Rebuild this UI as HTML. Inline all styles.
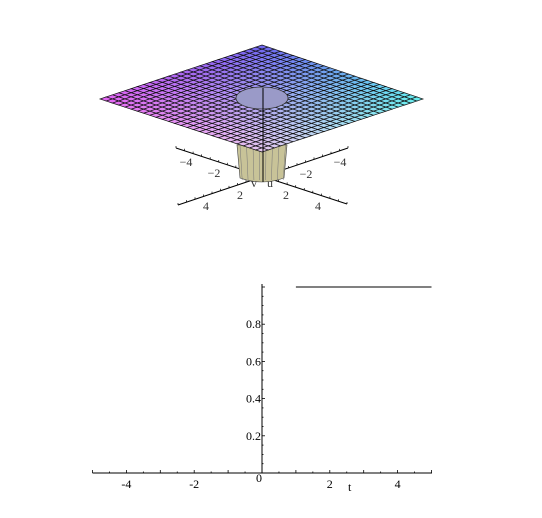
<!DOCTYPE html>
<html><head><meta charset="utf-8"><style>
html,body{margin:0;padding:0;background:#fff;}
svg{display:block;font-family:"Liberation Serif",serif;}
</style></head><body>
<svg id="s" width="542" height="518" viewBox="0 0 542 518">
<g id="p3d"></g>
<g id="p2d"></g>
</svg>
<script>
// 2D step plot data
const xTicks=[-4,-2,0,2,4];
const yTicks=[0.2,0.4,0.6,0.8];
const stepT=[-5,1,1,5];
const stepY=[0,0,1,1];
// 3D axis tick labels
const axTicksA=[-4,-2,2,4];

const NS="http://www.w3.org/2000/svg";
function mk(tag,attrs,parent){const e=document.createElementNS(NS,tag);for(const k in attrs)e.setAttribute(k,attrs[k]);parent.appendChild(e);return e;}

// ---------- 3D surface ----------
const g3=document.getElementById('p3d');
const T=[262,45],L=[100,99],R=[423,99],B=[262,152];
const cT=[110,100,240],cL=[230,100,245],cR=[100,240,240],cB=[230,200,240];
const N=26;
function pt(u,v){
  const x=(1-u)*(1-v)*T[0]+u*(1-v)*R[0]+u*v*B[0]+(1-u)*v*L[0];
  const y=(1-u)*(1-v)*T[1]+u*(1-v)*R[1]+u*v*B[1]+(1-u)*v*L[1];
  return [x,y];}
function col(u,v){const c=[0,1,2].map(i=>Math.round((1-u)*(1-v)*cT[i]+u*(1-v)*cR[i]+u*v*cB[i]+(1-u)*v*cL[i]));return `rgb(${c})`;}
// axes behind
const ax1=mk('line',{x1:176,y1:148,x2:347,y2:204,stroke:'#000','stroke-width':1},g3);

const ax2=mk('line',{x1:178,y1:205,x2:348,y2:148,stroke:'#000','stroke-width':1},g3);

for(let k=0;k<=20;k++){const f=k/20;
  const x1=176+f*171,y1=148+f*56; mk('line',{x1:x1,y1:y1,x2:x1,y2:y1-2,stroke:'#000','stroke-width':0.7},g3);
  const x2=178+f*170,y2=205-f*57; mk('line',{x1:x2,y1:y2,x2:x2,y2:y2-2,stroke:'#000','stroke-width':0.7},g3);}
// cylinder
const cyl=mk('path',{d:'M237,145 L287,145 L284,178 Q262,186 240,178 Z',fill:'#c8c398',stroke:'#444','stroke-width':0.6},g3);

for(let i=0;i<8;i++){const x=240+i*6.5;mk('line',{x1:x,y1:145,x2:x+(262-x)*0.1,y2:180,stroke:'#777','stroke-width':0.5},g3);}
// surface cells
for(let i=0;i<N;i++)for(let j=0;j<N;j++){
  const u0=i/N,u1=(i+1)/N,v0=j/N,v1=(j+1)/N;
  const a=pt(u0,v0),b=pt(u1,v0),c=pt(u1,v1),d=pt(u0,v1);
  mk('polygon',{points:[a,b,c,d].map(p=>p.join(',')).join(' '),fill:col((u0+u1)/2,(v0+v1)/2),stroke:'#111','stroke-width':0.7},g3);
}
const hole=mk('ellipse',{cx:262,cy:98,rx:26,ry:11,fill:'#9a9ac8',stroke:'#333','stroke-width':0.8},g3);

const vax=mk('line',{x1:263,y1:88,x2:263,y2:182,stroke:'#000','stroke-width':1},g3);

const lbl3=[[186,166,'−4'],[214,177,'−2'],[240,199,'2'],[206,210,'4'],[340,166,'−4'],[306,178,'−2'],[286,199,'2'],[318,210,'4'],[254,187,'v'],[270,187,'u']];
lbl3.forEach(l=>{const t=mk('text',{x:l[0],y:l[1],'font-size':12,'text-anchor':'middle',fill:'#333'},g3);t.textContent=l[2];
});

// ---------- 2D plot ----------
const g2=document.getElementById('p2d');
const X=t=>262+t*33.9, Y=y=>473-y*186;
const xa=mk('line',{x1:93,y1:473,x2:432,y2:473,stroke:'#000','stroke-width':1},g2);

const ya=mk('line',{x1:X(0),y1:284,x2:X(0),y2:473,stroke:'#000','stroke-width':1},g2);

for(let t=-5;t<=5.001;t+=0.5){mk('line',{x1:X(t),y1:473,x2:X(t),y2:t%1===0?470:471.5,stroke:'#000','stroke-width':0.8},g2);}
for(let y=0.05;y<=1.01;y+=0.05){mk('line',{x1:X(0),y1:Y(y),x2:X(0)+(Math.round(y*20)%4===0?3:1.5),y2:Y(y),stroke:'#000','stroke-width':0.8},g2);}
xTicks.forEach(t=>{const e=mk('text',{x:X(t)-(t===0?3:0),y:t===0?482:488,'font-size':12,'text-anchor':'middle'},g2);e.textContent=t<0?'-'+(-t):t;
});
yTicks.forEach(v=>{const e=mk('text',{x:X(0)-1,y:Y(v)+4,'font-size':12,'text-anchor':'end'},g2);e.textContent=v;
});
const tl=mk('text',{x:348,y:491,'font-size':12},g2);tl.textContent='t';

const line=mk('polyline',{points:[[X(stepT[0]),Y(stepY[0])],[X(stepT[1]),Y(stepY[1])]].join(' '),fill:'none',stroke:'#000','stroke-width':1},g2);

const line2=mk('polyline',{points:[[X(stepT[2]),Y(stepY[2])],[X(stepT[3]),Y(stepY[3])]].join(' '),fill:'none',stroke:'#000','stroke-width':1},g2);

</script>
</body></html>
